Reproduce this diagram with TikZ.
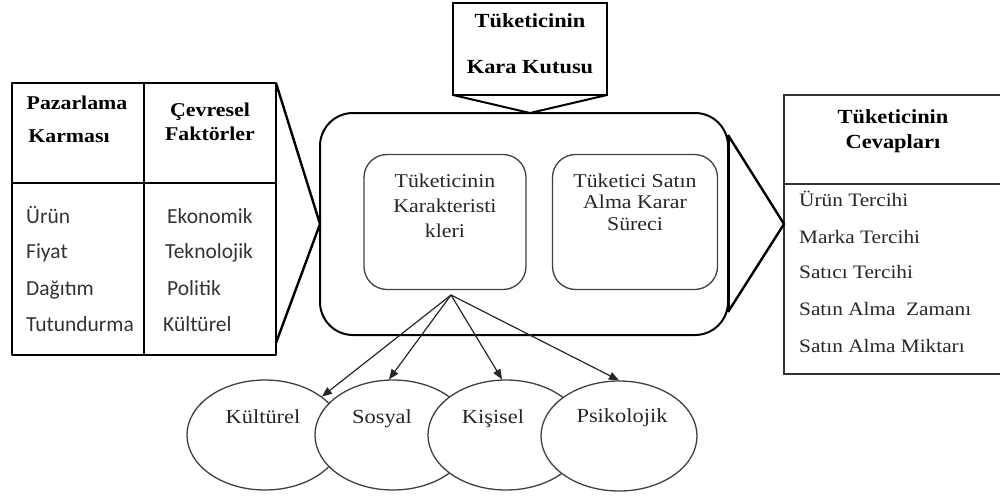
\documentclass[tikz,border=0pt]{standalone}
\usepackage{fontspec}
\setmainfont{Liberation Serif}[FakeStretch=1.12]
\newfontfamily\sansitem{Carlito}
\usetikzlibrary{shapes.geometric,arrows.meta}
\begin{document}
\begin{tikzpicture}[x=1pt,y=-1pt,
  heavy/.style={draw=black,line width=2.4pt,line join=round},
  box/.style={inner sep=0pt,outer sep=0pt},
  softbox/.style={draw=black!75,line width=1.3pt,rounded corners=23pt,inner sep=0pt,outer sep=0pt},
  ell/.style={ellipse,draw=black!75,fill=white,line width=1.3pt,minimum width=156pt,minimum height=110pt,inner sep=0pt},
  hd/.style={font=\fontsize{19.5}{19.5}\selectfont\bfseries,anchor=base,inner sep=0pt},
  hdr/.style={font=\fontsize{20}{20}\selectfont\bfseries,anchor=base,inner sep=0pt},
  txt/.style={font=\fontsize{19.5}{19.5}\selectfont,anchor=base,inner sep=0pt,text=black!85},
  item/.style={font=\fontsize{19}{19}\selectfont,anchor=base west,inner sep=0pt,text=black!85},
  sitem/.style={font=\sansitem\fontsize{21.5}{21.5}\selectfont,anchor=base west,inner sep=0pt,text=black!80},
  etxt/.style={font=\fontsize{20}{20}\selectfont,anchor=base,inner sep=0pt,text=black!85},
  arr/.style={draw=black!85,line width=1.2pt,-{Triangle[length=10pt,width=8pt]}}
]
\useasboundingbox (0,0) rectangle (1000,495);

% Left table: marketing mix and environmental factors
\node[box,heavy,minimum width=264pt,minimum height=272pt] (mix) at (144,219) {};
\draw[heavy] (mix.north) -- (mix.south);
\draw[heavy] (12,183) -- (276,183);
\node[hd] (pz1) at (77,109) {Pazarlama};
\node[hd] (pz2) at (69,142) {Karması};
\node[hd] (cv1) at (210,116) {Çevresel};
\node[hd] (cv2) at (210,140) {Faktörler};
\node[sitem] (m1) at (26,223) {Ürün};
\node[sitem] (m2) at (26,258) {Fiyat};
\node[sitem] (m3) at (26,295) {Dağıtım};
\node[sitem] (m4) at (26,331) {Tutundurma};
\node[sitem] (f1) at (167,223) {Ekonomik};
\node[sitem] (f2) at (165,258) {Teknolojik};
\node[sitem] (f3) at (167,295) {Politik};
\node[sitem] (f4) at (163,331) {Kültürel};

% Black box of the consumer
\node[box,heavy,line width=2pt,minimum width=408pt,minimum height=222pt,rounded corners=33pt] (bbox) at (524,224) {};
\node[box,draw=black,line width=2pt,minimum width=154pt,minimum height=92pt] (kara) at (530,49) {};
\node[hdr] (k1) at (530,28) {Tüketicinin};
\node[hdr] (k2) at (530,73) {Kara Kutusu};

% Inner boxes
\node[softbox,minimum width=162pt,minimum height=135pt] (char) at (445,222) {};
\node[softbox,minimum width=165pt,minimum height=135pt] (proc) at (635,222) {};
\node[txt] (c1) at (445,187) {Tüketicinin};
\node[txt] (c2) at (445,212) {Karakteristi};
\node[txt] (c3) at (445,237) {kleri};
\node[txt] (p1) at (635,187) {Tüketici Satın};
\node[txt] (p2) at (635,208) {Alma Karar};
\node[txt] (p3) at (635,230) {Süreci};

% Consumer responses
\node[box,draw=black!80,line width=1.5pt,minimum width=219pt,minimum height=279pt] (resp) at (893.5,234.5) {};
\draw[draw=black!80,line width=1.5pt] (784,184) -- (1003,184);
\node[hdr] (r1) at (893,123) {Tüketicinin};
\node[hdr] (r2) at (893,148) {Cevapları};
\node[item] (i1) at (799,206) {Ürün Tercihi};
\node[item] (i2) at (799,243) {Marka Tercihi};
\node[item] (i3) at (799,278) {Satıcı Tercihi};
\node[item] (i4) at (799,315) {Satın Alma~ Zamanı};
\node[item] (i5) at (799,352) {Satın Alma Miktarı};

% Chevron connectors between the blocks
\coordinate (mixlow) at (276,343);
\draw[heavy] (mix.north east) -- (bbox.west) -- (mixlow);
\draw[heavy,line width=2pt] (kara.south west) -- (bbox.north -| kara.south) -- (kara.south east);
\coordinate (rt1) at (728,135);
\coordinate (rt2) at (728,312);
\draw[heavy] (rt1) -- (resp.west |- bbox.east) -- (rt2);
\draw[heavy,line width=3pt] (rt1) -- (rt2);

% Characteristic groups
\node[ell] (kult) at (265,435) {};
\node[etxt] (kultT) at (263,423) {Kültürel};
\node[ell] (sos) at (393,435) {};
\node[etxt] (sosT) at (382,423) {Sosyal};
\node[ell] (kis) at (506,435) {};
\node[etxt] (kisT) at (493,423) {Kişisel};
\node[ell] (psi) at (619,436) {};
\node[etxt] (psiT) at (622,422) {Psikolojik};

\coordinate (apex) at (451,295);
\draw[arr] (apex) -- (kult.34);
\draw[arr] (apex) -- ([xshift=-4pt]sos.north);
\draw[arr] (apex) -- ([xshift=-4pt]kis.north);
\draw[arr] (apex) -- (psi.north);
\end{tikzpicture}
\end{document}
